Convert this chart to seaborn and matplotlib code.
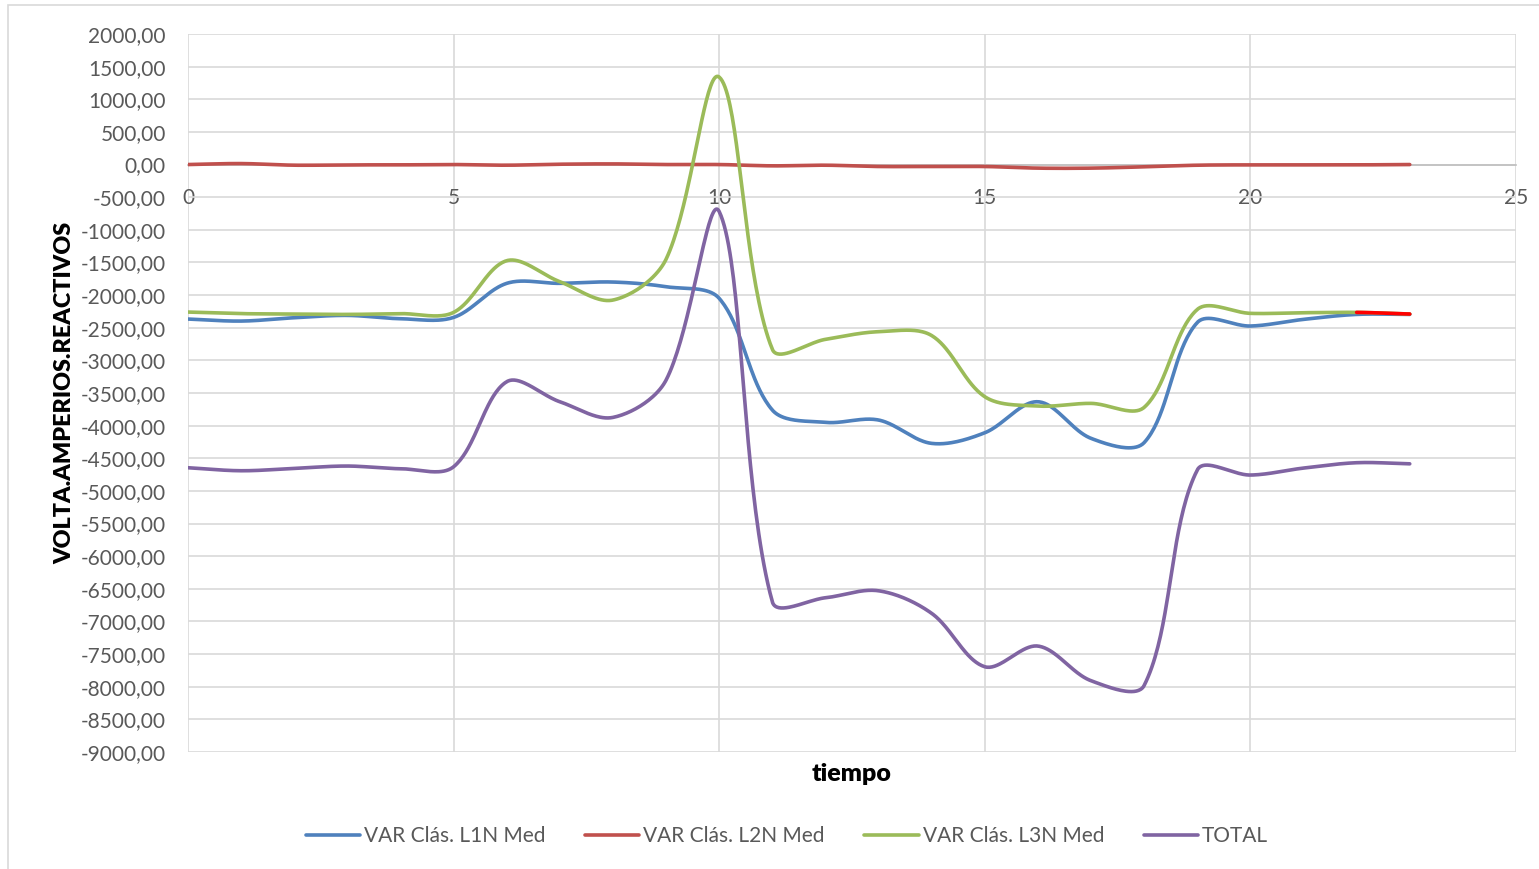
import numpy as np
import pandas as pd
import matplotlib
matplotlib.use("Agg")
import matplotlib.pyplot as plt
from matplotlib.patches import Rectangle
from matplotlib.ticker import FuncFormatter, MultipleLocator
import seaborn as sns

sns.set_theme(style="white")
plt.rcParams["font.family"] = ["Lato", "DejaVu Sans"]

# hourly readings (0..23)
hours = list(range(24))
l1n = [-2367, -2398, -2347, -2311, -2362, -2342, -1820, -1820, -1800, -1872, -2050, -3761,
       -3950, -3914, -4272, -4109, -3634, -4195, -4260, -2420, -2474, -2372, -2296, -2296]
l2n = [0, 15, -10, -5, -5, 0, -10, 5, 10, 0, 0, -20,
       -10, -30, -30, -30, -55, -55, -35, -10, -5, -5, -5, 0]
l3n = [-2260, -2284, -2290, -2296, -2284, -2265, -1473, -1795, -2076, -1450, 1340, -2830,
       -2678, -2561, -2620, -3557, -3700, -3659, -3720, -2220, -2280, -2270, -2265, -2290]
total = [-4645, -4691, -4655, -4619, -4660, -4630, -3327, -3634, -3874, -3302, -720, -6698,
         -6637, -6530, -6876, -7694, -7377, -7908, -7980, -4680, -4757, -4650, -4568, -4585]

series_names = ["VAR Clás. L1N Med", "VAR Clás. L2N Med", "VAR Clás. L3N Med", "TOTAL"]
series_values = [l1n, l2n, l3n, total]
colors = ["#4F81BD", "#C0504D", "#9BBB59", "#8064A2"]
TEXT = "#595959"
GRID = "#D9D9D9"

# pixel scale of the plot area, used so the smoothing behaves like Excel's
PX_X = 1328 / 25
PX_Y = 718 / 11000


def smooth(x, y, n=40, k=1 / 3):
    """Excel-like smoothed line through the data points (bezier, distance-weighted tangents)."""
    p = np.column_stack([np.asarray(x, float) * PX_X, np.asarray(y, float) * PX_Y])
    pad = np.vstack([p[0], p, p[-1]])
    t = np.linspace(0, 1, n, endpoint=False)[:, None]
    pieces = []
    for i in range(len(p) - 1):
        a, b = p[i], p[i + 1]
        prev, nxt = pad[i], pad[i + 3]
        d_ab = np.linalg.norm(b - a)
        d_pa = np.linalg.norm(a - prev)
        d_bn = np.linalg.norm(nxt - b)
        c1 = a + (b - prev) * k * d_ab / max(d_pa + d_ab, 1e-9)
        c2 = b - (nxt - a) * k * d_ab / max(d_ab + d_bn, 1e-9)
        pieces.append((1 - t) ** 3 * a + 3 * (1 - t) ** 2 * t * c1
                      + 3 * (1 - t) * t ** 2 * c2 + t ** 3 * b)
    pieces.append(p[-1][None, :])
    out = np.vstack(pieces)
    return out[:, 0] / PX_X, out[:, 1] / PX_Y


fig = plt.figure(figsize=(15.39, 8.69), dpi=100)
ax = fig.add_axes([188 / 1539, 1 - 752 / 869, (1516 - 188) / 1539, (752 - 34) / 869])

for name, vals, col in zip(series_names, series_values, colors):
    sx, sy = smooth(hours, vals)
    sns.lineplot(x=sx, y=sy, color=col, linewidth=2.6, label=name, sort=False,
                 estimator=None, ax=ax, zorder=3)
    if name == "VAR Clás. L3N Med":
        # last segment of this series was highlighted in bright red
        keep = sx >= hours[-2]
        sns.lineplot(x=sx[keep], y=sy[keep], color="#FF0000", linewidth=2.6, sort=False,
                     estimator=None, ax=ax, zorder=4, legend=False)

ax.set_xlim(0, 25)
ax.set_ylim(-9000, 2000)
ax.xaxis.set_major_locator(MultipleLocator(5))
ax.yaxis.set_major_locator(MultipleLocator(500))
ax.yaxis.set_major_formatter(FuncFormatter(lambda v, p: f"{v:.2f}".replace(".", ",")))
ax.grid(True, color=GRID, linewidth=1.2)
ax.set_axisbelow(True)

for s in ["top", "right", "left"]:
    ax.spines[s].set_visible(False)
ax.spines["bottom"].set_position(("data", 0))
ax.spines["bottom"].set_color("#BFBFBF")
ax.spines["bottom"].set_linewidth(1.2)

ax.tick_params(axis="both", length=0, colors=TEXT, labelsize=15)
ax.tick_params(axis="y", pad=16)
ax.tick_params(axis="x", pad=17)

ax.set_xlabel("")
ax.set_ylabel("VOLTA.AMPERIOS.REACTIVOS", fontsize=16.8, fontweight="heavy", color="black",
              labelpad=4)
fig.text(852 / 1539, 1 - 774 / 869, "tiempo", ha="center", va="center",
         fontsize=18, fontweight="heavy", color="black")

handles, labels = ax.get_legend_handles_labels()
ax.legend(handles[:4], labels[:4], loc="center", bbox_to_anchor=(787 / 1539, 1 - 836 / 869),
          bbox_transform=fig.transFigure, ncol=4, frameon=False, fontsize=15,
          handlelength=2.6, handletextpad=0.2, columnspacing=1.9, labelcolor=TEXT)

fig.patches.append(Rectangle((8, -10), 1600, 874, transform=None, fill=False,
                             edgecolor=GRID, linewidth=1.2))

fig.savefig("out.png", dpi=100)
